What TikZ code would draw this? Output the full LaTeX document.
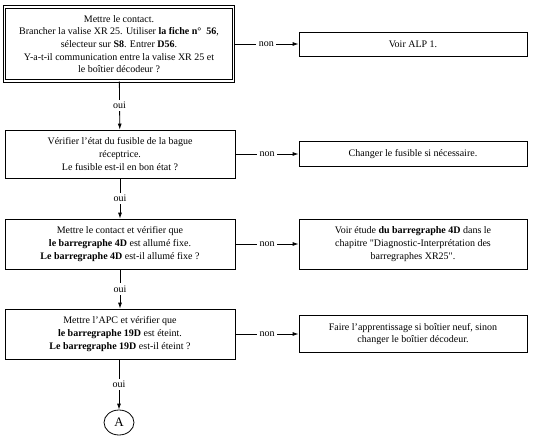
\documentclass[tikz,border=0pt]{standalone}
\usepackage{fontspec}
\setmainfont{Liberation Serif}
\newfontfamily\rawserif{Liberation Serif}[Ligatures=TeXOff]
\newcommand{\sq}{{\rawserif"}}
\usetikzlibrary{arrows.meta,shapes.geometric}
\begin{document}
\begin{tikzpicture}[x=1pt,y=-1pt,
  every node/.style={font=\fontsize{10}{12.7}\selectfont, text=black},
  qbox/.style={draw, line width=0.8pt, align=center, minimum width=230pt, inner sep=0pt},
  abox/.style={draw, line width=0.8pt, align=center, minimum width=228pt, inner sep=0pt},
  lab/.style={fill=white, inner sep=2.5pt},
  arr/.style={line width=0.8pt, -{Latex[length=6pt,width=4pt]}}]
\useasboundingbox (0,0) rectangle (536,437);
% question boxes
\node[qbox, double, double distance=1.6pt, minimum width=229pt, minimum height=74pt] (q1) at (119,44)
 {Mettre le contact.\\
  Brancher la valise XR 25. Utiliser \textbf{la fiche n°\ \ 56},\\
  sélecteur sur \textbf{S8}. Entrer \textbf{D56}.\\
  Y-a-t-il communication entre la valise XR 25 et\\
  le boîtier décodeur ?};
\node[qbox, minimum height=48pt] (q2) at (120,154)
 {Vérifier l’état du fusible de la bague\\
  réceptrice.\\
  Le fusible est-il en bon état ?};
\node[qbox, minimum height=50pt] (q3) at (120,244)
 {Mettre le contact et vérifier que\\
  \textbf{le barregraphe 4D} est allumé fixe.\\
  \textbf{Le barregraphe 4D} est-il allumé fixe ?};
\node[qbox, minimum height=50pt] (q4) at (120,334)
 {Mettre l’APC et vérifier que\\
  \textbf{le barregraphe 19D} est éteint.\\
  \textbf{Le barregraphe 19D} est-il éteint ?};
% answer boxes
\node[abox, minimum height=24pt] (r1) at (413,44) {Voir ALP 1.};
\node[abox, minimum height=25pt] (r2) at (413,154) {Changer le fusible si nécessaire.};
\node[abox, minimum height=50pt] (r3) at (413,244)
 {Voir étude \textbf{du barregraphe 4D} dans le\\
  chapitre \sq Diagnostic-Interprétation des\\
  barregraphes XR25\sq.};
\node[abox, minimum height=37pt] (r4) at (413,334)
 {Faire l’apprentissage si boîtier neuf, sinon\\
  changer le boîtier décodeur.};
% end circle
\node[draw, line width=0.8pt, ellipse, minimum width=30pt, minimum height=25pt, inner sep=0pt,
      font=\fontsize{13}{15}\selectfont] (A) at (119,422.5) {A};
% oui connectors
\draw[arr] (q1) -- node[lab] {oui} (q2);
\draw[arr] (q2) -- node[lab] {oui} (q3);
\draw[arr] (q3) -- node[lab] {oui} (q4);
\draw[arr] (q4.south -| A) -- node[lab] {oui} (A);
% non connectors
\draw[arr] (q1.east) -- node[lab] {non} (r1.west |- q1.east);
\draw[arr] (q2.east) -- node[lab] {non} (r2.west |- q2.east);
\draw[arr] (q3.east) -- node[lab] {non} (r3.west |- q3.east);
\draw[arr] (q4.east) -- node[lab] {non} (r4.west |- q4.east);
\end{tikzpicture}
\end{document}
